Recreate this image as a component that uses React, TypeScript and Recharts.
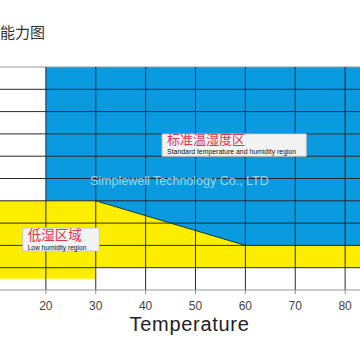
import React from 'react';
import { ComposedChart, XAxis, YAxis, Area, Line, ReferenceLine, ReferenceArea } from 'recharts';

const temps = [10, 20, 30, 30, 60, 90];
const yellowLow = [5, 5, 5, 10, 10, 10];
const yellowHigh = [40, 40, 40, 40, 20, 20];
const blueLow: (number | null)[] = [null, 40, 40, 40, 20, 20];
const blueHigh: (number | null)[] = [null, 100, 100, 100, 100, 100];
const edge: (number | null)[] = [null, null, null, 40, 20, null];

const xTicks = [10, 20, 30, 40, 50, 60, 70, 80];
const xGrid = [10, 20, 30, 40, 50, 60, 70, 80, 90];
const yGrid = [10, 20, 30, 40, 50, 60, 70, 80, 90];

const rows = temps.map((t, i) => ({
  t,
  yellow: [yellowLow[i], yellowHigh[i]],
  blue: blueHigh[i] == null ? undefined : [blueLow[i], blueHigh[i]],
  edge: edge[i] == null ? undefined : edge[i],
}));

const BLUE = '#0a9ae0';
const YELLOW = '#fdee00';
const GRID = '#2a2a2a';

function RegionLabel(props: any) {
  const { viewBox, zh, en, zhSize, enSize, zhDy, enDy } = props;
  const x = viewBox?.x ?? 0;
  const y = viewBox?.y ?? 0;
  return (
    <g>
      <text x={x + 5} y={y + zhDy} fontSize={zhSize} fill="#e0344f" fontFamily="'Noto Sans CJK SC'">{zh}</text>
      <text x={x + 5} y={y + enDy} fontSize={enSize} fill="#111" fontFamily="'Liberation Sans', Arial">{en}</text>
    </g>
  );
}

export default function App() {
  return (
    <div style={{ position: 'fixed', left: 0, top: 0, width: 360, height: 360, overflow: 'hidden', background: '#fff' }}>
      <div style={{ position: 'absolute', left: 0, top: 24, fontSize: 15, lineHeight: '15px', color: '#333', fontFamily: "'Noto Sans CJK SC'" }}>能力图</div>
      <div style={{ position: 'absolute', left: -4, top: 0 }}>
        <ComposedChart width={409} height={360} data={rows} margin={{ top: 67, right: 10, bottom: 0, left: 0 }}>
          <XAxis
            dataKey="t"
            type="number"
            domain={[10, 90]}
            ticks={xTicks}
            height={70}
            tickSize={4}
            tickMargin={7}
            tick={{ fontSize: 12, fill: '#444', fontFamily: "'Liberation Sans', Arial" }}
            axisLine={{ stroke: '#999' }}
            tickLine={{ stroke: '#888' }}
            label={{ value: 'Temperature', position: 'insideBottom', offset: 29, dx: -6, fontSize: 20, fill: '#222', letterSpacing: 0.7, fontFamily: "'Liberation Sans', Arial" }}
          />
          <YAxis hide type="number" domain={[0, 100]} />
          <Area dataKey="yellow" type="linear" fill={YELLOW} fillOpacity={1} stroke="none" isAnimationActive={false} />
          <Area dataKey="blue" type="linear" fill={BLUE} fillOpacity={1} stroke="none" isAnimationActive={false} />
          {yGrid.map((v) => (
            <ReferenceLine key={'h' + v} y={v} stroke={GRID} strokeWidth={1} />
          ))}
          <ReferenceLine y={100} stroke="#999" strokeWidth={1} />
          {xGrid.map((v) => (
            <ReferenceLine key={'v' + v} x={v} stroke={GRID} strokeWidth={1} />
          ))}
          <Line dataKey="edge" type="linear" stroke="#1d3a2a" strokeWidth={1} dot={false} isAnimationActive={false} />
          <ReferenceArea
            x1={43.3}
            x2={72.2}
            y1={60}
            y2={70}
            fill="#f3f3f3"
            fillOpacity={1}
            stroke="#c8c8c8"
            zIndex={900}
            label={<RegionLabel zh="标准温湿度区" en="Standard temperature and humidity region" zhSize={13} enSize={6.9} zhDy={10.5} enDy={20.5} />}
          />
          <ReferenceArea
            x1={15.35}
            x2={30.7}
            y1={17.5}
            y2={27.8}
            fill="#f3f3f3"
            fillOpacity={1}
            stroke="#c8c8c8"
            zIndex={900}
            label={<RegionLabel zh="低湿区域" en="Low humidity region" zhSize={13.5} enSize={6.6} zhDy={11.5} enDy={21.5} />}
          />
        </ComposedChart>
      </div>
      <div style={{ position: 'absolute', left: 90, top: 175.4, fontSize: 12.5, lineHeight: '12.5px', color: '#9ad6f2', fontFamily: "'Liberation Sans', Arial", whiteSpace: 'nowrap' }}>
        Simplewell Technology Co., LTD
      </div>
    </div>
  );
}
